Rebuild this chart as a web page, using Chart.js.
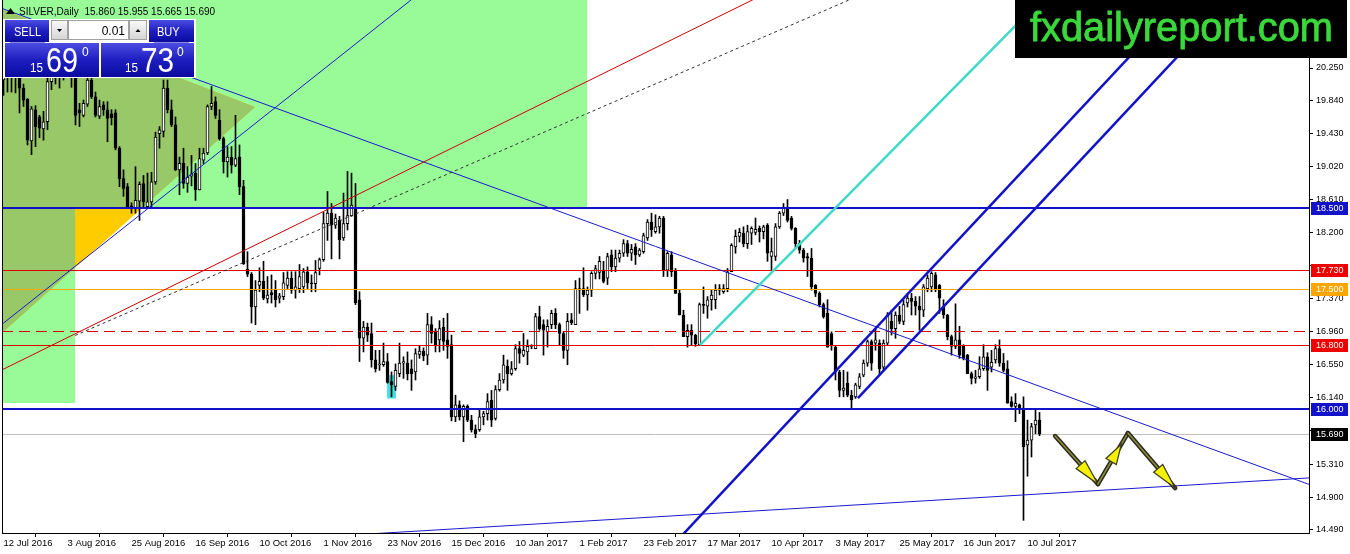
<!DOCTYPE html>
<html>
<head>
<meta charset="utf-8">
<script src="https://cdn.jsdelivr.net/npm/chart.js@4.4.1/dist/chart.umd.min.js"></script>
<style>
html, body { margin: 0; padding: 0; background: #fff; overflow: hidden; }
canvas { display: block; }
</style>
</head>
<body>
<canvas id="myChart" width="1350" height="554"></canvas>
<script>
// SILVER daily candles, 12 Jul 2016 .. 13 Jul 2017 (bar index 0..259)
var opens = [
  20.10,20.15,20.20,20.25,20.20,20.00,19.86,19.34,19.73,19.64,
  19.49,19.58,20.08,20.25,20.15,20.28,20.35,20.30,20.20,19.73,
  19.66,19.80,20.10,19.89,19.65,19.79,19.73,19.68,19.69,19.25,
  18.87,18.77,18.53,18.50,18.59,18.81,18.52,18.58,18.83,19.43,
  19.46,20.00,19.73,19.54,18.98,19.06,18.81,18.90,18.94,18.73,
  19.10,19.19,19.77,19.83,19.60,19.37,19.08,19.14,19.04,19.14,
  18.77,17.74,17.68,17.27,17.54,17.59,17.37,17.45,17.48,17.38,
  17.40,17.54,17.63,17.48,17.50,17.52,17.71,17.57,17.56,17.75,
  17.86,18.31,18.44,18.29,18.35,18.13,18.31,18.41,18.50,17.36,
  16.88,17.02,16.94,16.61,16.55,16.55,16.59,16.34,16.28,16.44,
  16.57,16.57,16.50,16.46,16.68,16.72,16.67,17.05,16.96,16.86,
  17.02,16.86,16.80,15.90,16.05,15.90,16.03,15.86,15.74,15.74,
  15.90,15.94,16.11,15.88,16.24,16.36,16.53,16.44,16.50,16.75,
  16.67,16.71,16.78,16.75,17.15,17.05,16.96,17.05,17.19,17.05,
  16.94,16.73,17.11,17.05,17.48,17.50,17.42,17.48,17.69,17.70,
  17.73,17.63,17.92,17.77,17.88,17.94,18.06,17.94,18.02,17.92,
  17.96,18.13,18.33,18.21,18.27,18.38,17.73,17.92,17.73,17.44,
  17.17,16.90,16.98,16.92,16.80,17.30,17.28,17.36,17.36,17.48,
  17.46,17.50,17.71,18.02,18.15,18.19,18.06,18.19,18.20,18.25,
  18.21,18.29,17.90,17.90,18.27,18.44,18.50,18.38,18.25,18.06,
  17.98,17.90,17.88,17.54,17.44,17.30,17.19,16.94,16.77,16.46,
  16.23,16.32,16.17,16.15,16.28,16.42,16.57,16.84,16.82,16.82,
  16.52,16.82,17.09,17.00,17.17,17.09,17.32,17.38,17.34,17.28,
  17.23,17.50,17.52,17.67,17.54,17.27,17.17,16.90,16.78,16.86,
  16.78,16.67,16.44,16.38,16.40,16.50,16.65,16.52,16.61,16.75,
  16.57,16.50,16.09,16.03,16.05,16.01,15.55,15.61,15.80,15.86
];
var highs = [
  20.35,20.30,20.40,20.45,20.30,20.05,19.87,19.77,19.78,19.66,
  19.71,20.20,20.35,20.40,20.35,20.45,20.50,20.45,20.25,19.81,
  19.85,20.12,20.14,19.95,19.85,19.83,19.83,19.73,19.73,19.27,
  18.98,18.81,18.57,19.02,18.83,18.91,18.94,18.95,19.45,19.52,
  20.10,20.10,19.85,19.64,19.14,19.25,19.02,19.16,19.06,19.25,
  19.25,19.79,20.02,19.89,19.73,19.39,19.27,19.27,19.66,19.29,
  18.85,17.96,17.70,17.60,17.76,17.84,17.65,17.67,17.60,17.44,
  17.70,17.71,17.71,17.71,17.80,17.75,17.77,17.67,17.85,17.88,
  18.45,18.71,18.56,18.43,18.40,18.69,18.96,18.94,18.81,17.46,
  17.09,17.07,17.07,16.73,16.73,16.82,16.69,16.46,16.56,16.82,
  16.65,16.71,16.61,16.75,16.78,16.76,17.19,17.15,17.00,17.10,
  17.13,17.19,16.92,16.17,16.10,16.05,16.05,15.92,15.80,15.99,
  15.97,16.19,16.23,16.29,16.44,16.67,16.61,16.59,16.80,16.84,
  16.94,16.86,16.80,17.19,17.28,17.11,17.11,17.23,17.25,17.07,
  16.96,17.19,17.19,17.60,17.63,17.76,17.52,17.71,17.79,17.90,
  17.84,17.94,17.98,17.98,17.98,18.11,18.10,18.05,18.06,18.00,
  18.19,18.36,18.44,18.42,18.40,18.40,17.96,17.96,17.75,17.48,
  17.23,17.05,17.05,16.93,17.32,17.52,17.40,17.48,17.55,17.55,
  17.55,17.75,18.06,18.23,18.25,18.27,18.29,18.27,18.38,18.28,
  18.29,18.31,18.13,18.31,18.46,18.56,18.61,18.40,18.26,18.10,
  18.00,17.94,18.00,17.55,17.46,17.32,17.36,16.96,16.78,16.48,
  16.48,16.46,16.23,16.32,16.44,16.61,16.86,16.86,17.00,16.86,
  16.86,17.20,17.23,17.21,17.28,17.36,17.44,17.44,17.40,17.40,
  17.55,17.67,17.71,17.70,17.55,17.36,17.18,16.92,17.31,17.03,
  16.80,16.68,16.46,16.48,16.65,16.80,16.70,16.73,16.80,16.86,
  16.69,16.60,16.15,16.19,16.06,16.15,15.86,15.82,15.99,15.955
];
var lows = [
  19.91,19.95,19.95,19.94,19.69,19.77,19.29,19.17,19.27,19.38,
  19.35,19.48,19.98,20.05,20.00,20.10,20.15,20.01,19.54,19.52,
  19.64,19.77,19.87,19.64,19.62,19.66,19.33,19.54,19.23,18.77,
  18.65,18.50,18.44,18.44,18.35,18.52,18.50,18.52,18.80,19.25,
  19.39,19.69,19.52,18.97,18.67,18.75,18.70,18.78,18.60,18.73,
  19.06,19.17,19.73,19.62,19.35,18.94,18.89,18.94,19.02,18.67,
  17.80,17.65,17.07,17.05,17.46,17.36,17.32,17.32,17.27,17.32,
  17.36,17.50,17.44,17.38,17.45,17.45,17.50,17.46,17.46,17.67,
  17.84,18.10,17.87,18.25,17.87,18.10,18.23,18.40,17.30,16.59,
  16.71,16.84,16.52,16.46,16.48,16.53,16.32,16.15,16.23,16.40,
  16.38,16.36,16.23,16.36,16.63,16.60,16.55,16.82,16.71,16.71,
  16.73,16.63,15.85,15.84,15.86,15.59,15.84,15.71,15.64,15.72,
  15.80,15.86,15.78,15.86,16.22,16.32,16.23,16.42,16.48,16.57,
  16.65,16.55,16.75,16.75,16.98,16.67,16.77,17.00,17.00,16.80,
  16.63,16.55,17.05,17.05,17.19,17.40,17.23,17.40,17.62,17.62,
  17.57,17.55,17.71,17.71,17.83,17.90,17.90,17.85,17.80,17.90,
  17.94,18.10,18.15,18.19,18.19,17.65,17.65,17.65,17.44,17.17,
  16.90,16.77,16.79,16.78,16.80,17.19,17.13,17.23,17.25,17.42,
  17.44,17.46,17.71,17.94,18.08,18.02,18.00,18.05,18.17,18.08,
  18.12,17.84,17.73,17.85,18.25,18.41,18.33,18.23,18.00,17.94,
  17.83,17.65,17.48,17.40,17.27,17.13,16.77,16.73,16.36,16.15,
  16.15,16.15,16.01,16.13,16.25,16.40,16.53,16.48,16.73,16.42,
  16.48,16.80,16.92,16.88,17.06,17.05,17.27,17.17,17.17,16.98,
  17.15,17.46,17.46,17.46,17.19,17.13,16.86,16.67,16.75,16.63,
  16.61,16.44,16.31,16.32,16.38,16.48,16.23,16.46,16.57,16.53,
  16.46,16.07,16.02,15.84,15.94,14.61,15.16,15.40,15.69,15.665
];
var closes = [
  20.15,20.20,20.25,20.15,20.00,19.85,19.35,19.74,19.52,19.50,
  19.58,20.08,20.25,20.15,20.28,20.35,20.30,20.20,19.66,19.69,
  19.81,20.10,19.89,19.66,19.77,19.73,19.62,19.63,19.25,18.87,
  18.75,18.51,18.50,18.60,18.80,18.58,18.58,18.83,19.39,19.48,
  20.00,19.73,19.54,18.98,19.06,18.81,18.89,18.93,18.73,19.12,
  19.19,19.77,19.81,19.66,19.37,19.08,19.14,19.04,19.12,18.77,
  17.81,17.68,17.27,17.48,17.59,17.38,17.42,17.42,17.36,17.41,
  17.57,17.63,17.48,17.52,17.65,17.71,17.57,17.56,17.70,17.86,
  18.31,18.44,18.29,18.38,18.11,18.31,18.41,18.54,17.32,16.88,
  17.02,16.92,16.61,16.50,16.56,16.59,16.33,16.30,16.48,16.57,
  16.59,16.44,16.44,16.69,16.72,16.66,17.05,16.94,16.80,17.00,
  16.84,16.78,15.90,16.05,15.90,16.03,15.86,15.74,15.69,15.90,
  15.94,16.09,15.86,16.24,16.36,16.55,16.44,16.50,16.75,16.69,
  16.73,16.78,16.79,17.15,17.00,16.98,17.03,17.19,17.05,16.94,
  16.73,17.09,17.07,17.50,17.50,17.42,17.48,17.69,17.75,17.84,
  17.59,17.90,17.77,17.88,17.94,18.06,17.94,17.99,17.92,17.98,
  18.16,18.33,18.23,18.27,18.38,17.73,17.94,17.71,17.44,17.17,
  16.90,16.98,16.92,16.81,17.30,17.29,17.36,17.42,17.48,17.50,
  17.50,17.71,18.04,18.15,18.20,18.06,18.21,18.25,18.24,18.21,
  18.27,17.94,17.96,18.27,18.44,18.50,18.35,18.25,18.06,17.98,
  17.88,17.88,17.52,17.44,17.30,17.15,16.77,16.80,16.46,16.23,
  16.26,16.17,16.11,16.30,16.40,16.57,16.84,16.57,16.86,16.50,
  16.82,17.17,17.00,17.17,17.09,17.30,17.38,17.34,17.28,17.23,
  17.52,17.63,17.69,17.50,17.38,17.17,16.90,16.78,16.86,16.67,
  16.63,16.44,16.38,16.40,16.50,16.65,16.48,16.58,16.75,16.57,
  16.48,16.07,16.03,16.07,16.01,15.53,15.61,15.78,15.86,15.69
];

// time axis labels (every 16 bars) and price axis ticks
var xTickBars = [0, 16, 32, 48, 64, 80, 96, 112, 128, 144, 160, 176, 192, 208, 224, 240, 256];
var xTickLabels = ['12 Jul 2016', '3 Aug 2016', '25 Aug 2016', '16 Sep 2016', '10 Oct 2016', '1 Nov 2016',
  '23 Nov 2016', '15 Dec 2016', '10 Jan 2017', '1 Feb 2017', '23 Feb 2017', '17 Mar 2017', '10 Apr 2017',
  '3 May 2017', '25 May 2017', '16 Jun 2017', '10 Jul 2017'];
var yTicks = [20.25, 19.84, 19.43, 19.02, 18.61, 18.20, 17.79, 17.37, 16.96, 16.55, 16.14, 15.73, 15.31, 14.90, 14.49];

// horizontal levels and the tags on the price axis
var levelPrices = [18.50, 17.73, 17.50, 16.975, 16.80, 16.00];
var tagPrices = [18.50, 17.73, 17.50, 16.80, 16.00, 15.69];
var bidPrice = 15.69;

// drawn objects, as (bar, price) anchor pairs
var zoneTopBars = [-2, 145.9];      var zoneTopPrices = [18.517, 21.2];
var zoneLeftBars = [-2, 17.9];      var zoneLeftPrices = [16.073, 18.517];
var triangleBars = [-3.4, 62.9, -3.4];
var trianglePrices = [21.04, 19.764, 16.81];
var boxBars = [95.9, 98.1];         var boxPrices = [16.13, 16.42];
var downLineBars = [47.4, 326.1];   var downLinePrices = [20.125, 15.063];
var upLineBars = [36.6, 74.1];      var upLinePrices = [18.517, 20.0];
var redLineBars = [36.6, 74.1];     var redLinePrices = [17.395, 18.317];
var dotLineBars = [17.9, 74.1];     var dotLinePrices = [16.915, 18.13];
var floorLineBars = [95.4, 326.1];  var floorLinePrices = [14.452, 15.138];
var cyanLineBars = [174.1, 212.4];  var cyanLinePrices = [16.796, 18.729];
var chanALineBars = [196.6, 221.6]; var chanALinePrices = [15.861, 17.195];
var chanBLineBars = [213.6, 245.9]; var chanBLinePrices = [16.135, 17.856];
var pathBars = [262.9, 273.6, 281.1, 292.9];
var pathPrices = [15.661, 15.063, 15.698, 15.012];

var BLUE = '#1212c8';

function pt(chart, bar, price) {
  return [chart.scales.x.getPixelForValue(bar), chart.scales.y.getPixelForValue(price)];
}

function drawLine(ctx, chart, bars, prices, fromFirst) {
  var a = pt(chart, bars[0], prices[0]), b = pt(chart, bars[1], prices[1]);
  var ca = chart.chartArea;
  var k = (b[1] - a[1]) / (b[0] - a[0]);
  var x0 = fromFirst ? a[0] : ca.left, x1 = ca.right;
  ctx.beginPath();
  ctx.moveTo(x0, a[1] + k * (x0 - a[0]));
  ctx.lineTo(x1, a[1] + k * (x1 - a[0]));
  ctx.stroke();
}

function rectOf(chart, bars, prices) {
  var a = pt(chart, bars[0], prices[0]), b = pt(chart, bars[1], prices[1]);
  return [Math.min(a[0], b[0]), Math.min(a[1], b[1]), Math.abs(b[0] - a[0]), Math.abs(b[1] - a[1])];
}

function arrow(ctx, a, b, tipFrac, headLen) {
  var dx = b[0] - a[0], dy = b[1] - a[1];
  var len = Math.sqrt(dx * dx + dy * dy), ux = dx / len, uy = dy / len;
  var tip = [a[0] + dx * tipFrac, a[1] + dy * tipFrac];
  var base = [tip[0] - ux * headLen, tip[1] - uy * headLen];
  ctx.lineCap = 'round';
  ctx.strokeStyle = '#2b2b20'; ctx.lineWidth = 4.5;
  ctx.beginPath(); ctx.moveTo(a[0], a[1]); ctx.lineTo(b[0], b[1]); ctx.stroke();
  ctx.strokeStyle = '#8c8c3c'; ctx.lineWidth = 1.5;
  ctx.beginPath(); ctx.moveTo(a[0], a[1]); ctx.lineTo(b[0], b[1]); ctx.stroke();
  ctx.beginPath();
  ctx.moveTo(tip[0], tip[1]);
  ctx.lineTo(base[0] - uy * 6, base[1] + ux * 6);
  ctx.lineTo(base[0] + uy * 6, base[1] - ux * 6);
  ctx.closePath();
  ctx.fillStyle = '#f4f000'; ctx.fill();
  ctx.strokeStyle = '#3a3a20'; ctx.lineWidth = 1.2; ctx.stroke();
}

var backPlugin = {
  id: 'back',
  beforeDatasetsDraw: function (chart) {
    var ctx = chart.ctx, ca = chart.chartArea;
    ctx.save();
    ctx.beginPath(); ctx.rect(ca.left, ca.top, ca.right - ca.left, ca.bottom - ca.top); ctx.clip();
    var r1 = rectOf(chart, zoneTopBars, zoneTopPrices);
    var r2 = rectOf(chart, zoneLeftBars, zoneLeftPrices);
    ctx.fillStyle = '#98fb98';
    ctx.fillRect(r1[0], r1[1], r1[2], r1[3]);
    ctx.fillRect(r2[0], r2[1], r2[2], r2[3]);
    ctx.beginPath();
    for (var i = 0; i < 3; i++) {
      var p = pt(chart, triangleBars[i], trianglePrices[i]);
      if (i === 0) ctx.moveTo(p[0], p[1]); else ctx.lineTo(p[0], p[1]);
    }
    ctx.closePath();
    ctx.fillStyle = '#ffcc00';
    ctx.fill();
    ctx.clip();
    ctx.fillStyle = '#98c867';
    ctx.fillRect(r1[0], r1[1], r1[2], r1[3]);
    ctx.fillRect(r2[0], r2[1], r2[2], r2[3]);
    ctx.restore();

    ctx.save();
    var rb = rectOf(chart, boxBars, boxPrices);
    ctx.fillStyle = '#3ee0e0';
    ctx.fillRect(rb[0], rb[1], rb[2], rb[3]);
    var yb = Math.round(chart.scales.y.getPixelForValue(bidPrice)) + 0.5;
    ctx.strokeStyle = '#c0c0c0'; ctx.lineWidth = 1;
    ctx.beginPath(); ctx.moveTo(ca.left, yb); ctx.lineTo(ca.right, yb); ctx.stroke();
    ctx.restore();
  },
  afterDatasetsDraw: function (chart) {
    var ctx = chart.ctx, ca = chart.chartArea, ys = chart.scales.y;
    ctx.save();
    ctx.beginPath(); ctx.rect(ca.left, ca.top, ca.right - ca.left, ca.bottom - ca.top); ctx.clip();
    var lvlColor = [BLUE, '#e00000', '#ffa500', '#d80000', '#e00000', BLUE];
    var lvlWidth = [2, 1, 1, 1, 1, 2];
    for (var i = 0; i < levelPrices.length; i++) {
      var y = ys.getPixelForValue(levelPrices[i]);
      y = lvlWidth[i] === 1 ? Math.round(y) + 0.5 : Math.round(y);
      ctx.strokeStyle = lvlColor[i]; ctx.lineWidth = lvlWidth[i];
      ctx.setLineDash(i === 3 ? [11, 6] : []);
      ctx.beginPath(); ctx.moveTo(ca.left, y); ctx.lineTo(ca.right, y); ctx.stroke();
    }
    ctx.setLineDash([]);
    ctx.lineWidth = 1;
    ctx.strokeStyle = '#1a1ad0';
    drawLine(ctx, chart, downLineBars, downLinePrices, false);
    drawLine(ctx, chart, upLineBars, upLinePrices, false);
    drawLine(ctx, chart, floorLineBars, floorLinePrices, false);
    ctx.strokeStyle = '#d00000';
    drawLine(ctx, chart, redLineBars, redLinePrices, false);
    ctx.strokeStyle = '#303030'; ctx.setLineDash([3, 3]);
    drawLine(ctx, chart, dotLineBars, dotLinePrices, true);
    ctx.setLineDash([]);
    ctx.strokeStyle = '#40d8c8'; ctx.lineWidth = 2.5;
    drawLine(ctx, chart, cyanLineBars, cyanLinePrices, true);
    ctx.strokeStyle = BLUE; ctx.lineWidth = 2.5;
    drawLine(ctx, chart, chanALineBars, chanALinePrices, false);
    drawLine(ctx, chart, chanBLineBars, chanBLinePrices, true);
    var P = [];
    for (var j = 0; j < pathBars.length; j++) P.push(pt(chart, pathBars[j], pathPrices[j]));
    arrow(ctx, P[0], P[1], 1, 26);
    arrow(ctx, P[1], P[2], 0.78, 20);
    arrow(ctx, P[2], P[3], 1, 26);
    ctx.restore();
  },
  afterDraw: function (chart) {
    var ctx = chart.ctx, ca = chart.chartArea, ys = chart.scales.y;
    ctx.save();
    // left frame
    ctx.strokeStyle = '#000'; ctx.lineWidth = 1;
    ctx.beginPath(); ctx.moveTo(ca.left + 0.5, 0); ctx.lineTo(ca.left + 0.5, ca.bottom); ctx.stroke();
    // price tags
    var tagColor = [BLUE, '#ee0000', '#ffa500', '#ee0000', BLUE, '#000'];
    ctx.font = '9px "Liberation Sans"';
    ctx.textBaseline = 'middle'; ctx.textAlign = 'left';
    for (var i = 0; i < tagPrices.length; i++) {
      var y = Math.round(ys.getPixelForValue(tagPrices[i]));
      ctx.fillStyle = tagColor[i];
      ctx.fillRect(ca.right + 2, y - 6, 37, 13);
      ctx.fillStyle = '#fff';
      ctx.fillText(tagPrices[i].toFixed(3), ca.right + 7, y + 0.5);
    }
    // logo
    ctx.fillStyle = '#000';
    ctx.fillRect(1015, 0, 332, 58);
    ctx.font = '40px "Liberation Sans"';
    ctx.textBaseline = 'alphabetic';
    var txt = 'fxdailyreport.com';
    var w = ctx.measureText(txt).width;
    ctx.save();
    ctx.translate(1030, 41);
    ctx.scale(303 / w, 1);
    ctx.fillStyle = '#3ad83a';
    ctx.strokeStyle = '#3ad83a';
    ctx.lineWidth = 0.8;
    ctx.fillText(txt, 0, 0);
    ctx.strokeText(txt, 0, 0);
    ctx.restore();
    // header
    ctx.fillStyle = '#000';
    ctx.beginPath(); ctx.moveTo(6, 14); ctx.lineTo(10.5, 8); ctx.lineTo(15, 14); ctx.closePath(); ctx.fill();
    ctx.font = '10px "Liberation Sans"';
    ctx.fillText('SILVER,Daily  15.860 15.955 15.665 15.690', 19, 15);
    drawPanel(ctx);
    ctx.restore();
  }
};

function blueBox(ctx, x, y, w, h) {
  var g = ctx.createLinearGradient(0, y, 0, y + h);
  g.addColorStop(0, '#4c4ce2');
  g.addColorStop(0.5, '#1e1ec0');
  g.addColorStop(1, '#0a0a9e');
  ctx.fillStyle = g;
  ctx.fillRect(x, y, w, h);
}

function spinBox(ctx, x, w, up) {
  var g = ctx.createLinearGradient(0, 20, 0, 40);
  g.addColorStop(0, '#fafafa'); g.addColorStop(1, '#d4d4d4');
  ctx.fillStyle = g; ctx.fillRect(x, 20, w, 20);
  ctx.strokeStyle = '#a0a0a0'; ctx.lineWidth = 1; ctx.strokeRect(x + 0.5, 20.5, w - 1, 19);
  var cx = x + w / 2;
  ctx.fillStyle = '#000';
  ctx.beginPath();
  if (up) { ctx.moveTo(cx - 2.5, 32); ctx.lineTo(cx + 2.5, 32); ctx.lineTo(cx, 29); }
  else { ctx.moveTo(cx - 2.5, 29); ctx.lineTo(cx + 2.5, 29); ctx.lineTo(cx, 32); }
  ctx.closePath(); ctx.fill();
}

function squeezeText(ctx, t, x, y, sx) {
  ctx.save(); ctx.translate(x, y); ctx.scale(sx, 1); ctx.fillText(t, 0, 0); ctx.restore();
}

function drawPanel(ctx) {
  ctx.fillStyle = '#fff';
  ctx.fillRect(3, 19, 193, 59);
  blueBox(ctx, 5, 20, 44, 22);
  blueBox(ctx, 149, 20, 45, 22);
  blueBox(ctx, 5, 43, 94, 34);
  blueBox(ctx, 101, 43, 93, 34);
  ctx.strokeStyle = '#8a8ad8'; ctx.lineWidth = 1;
  ctx.beginPath(); ctx.moveTo(10, 42.5); ctx.lineTo(45, 42.5); ctx.moveTo(154, 42.5); ctx.lineTo(189, 42.5); ctx.stroke();
  spinBox(ctx, 51, 17, false);
  spinBox(ctx, 129, 18, true);
  ctx.fillStyle = '#fff'; ctx.fillRect(68, 20, 61, 20);
  ctx.strokeStyle = '#a0a0a0'; ctx.strokeRect(68.5, 20.5, 60, 19);
  ctx.textBaseline = 'alphabetic';
  ctx.fillStyle = '#000'; ctx.font = '12px "Liberation Sans"'; ctx.textAlign = 'right';
  ctx.fillText('0.01', 125, 35);
  ctx.textAlign = 'left';
  ctx.fillStyle = '#fff';
  ctx.font = '13px "Liberation Sans"';
  squeezeText(ctx, 'SELL', 14, 36, 0.85);
  squeezeText(ctx, 'BUY', 157, 36, 0.85);
  ctx.font = '13px "Liberation Sans"';
  squeezeText(ctx, '15', 30, 72, 0.9);
  squeezeText(ctx, '15', 125, 72, 0.9);
  ctx.font = '35px "Liberation Sans"';
  squeezeText(ctx, '69', 46, 72, 0.82);
  squeezeText(ctx, '73', 141, 72, 0.85);
  ctx.font = '12px "Liberation Sans"';
  ctx.fillText('0', 82, 56);
  ctx.fillText('0', 177, 56);
}

var bodyData = [], wickData = [];
for (var i = 0; i < opens.length; i++) {
  bodyData.push({ x: i, y: [opens[i], closes[i]] });
  wickData.push({ x: i, y: [lows[i], highs[i]] });
}

var myChart = document.getElementById('myChart').getContext('2d');
var chart = new Chart(myChart, {
  type: 'bar',
  data: {
    datasets: [
      {
        label: 'body',
        data: bodyData,
        grouped: false,
        barThickness: 3,
        minBarLength: 1,
        borderWidth: 1,
        borderSkipped: false,
        borderColor: '#000',
        backgroundColor: function (c) {
          var k = c.dataIndex;
          return closes[k] >= opens[k] ? '#fff' : '#000';
        }
      },
      {
        label: 'wick',
        data: wickData,
        grouped: false,
        barThickness: 1,
        borderWidth: 0,
        backgroundColor: '#000'
      }
    ]
  },
  options: {
    responsive: false,
    animation: false,
    devicePixelRatio: 1,
    layout: { padding: { left: 2, top: 0, right: 0, bottom: 0 } },
    plugins: { legend: { display: false }, tooltip: { enabled: false } },
    scales: {
      x: {
        type: 'linear',
        min: -0.375,
        max: 326.375,
        offset: false,
        grid: { drawOnChartArea: false, tickLength: 4, color: '#000' },
        border: { display: true, color: '#000' },
        ticks: {
          align: 'start',
          autoSkip: false,
          maxRotation: 0,
          padding: 1,
          color: '#000',
          font: { family: 'Liberation Sans', size: 9.5 },
          callback: function (v, idx) { return xTickLabels[idx]; }
        },
        afterBuildTicks: function (s) { s.ticks = xTickBars.map(function (v) { return { value: v }; }); },
        afterFit: function (s) { s.height = 21; s.paddingLeft = 0; s.paddingRight = 0; }
      },
      y: {
        position: 'right',
        min: 14.452,
        max: 21.098,
        grid: { drawOnChartArea: false, tickLength: 4, color: '#000' },
        border: { display: true, color: '#000' },
        ticks: {
          padding: 3,
          color: '#000',
          font: { family: 'Liberation Sans', size: 9 },
          callback: function (v) {
            for (var t = 0; t < tagPrices.length; t++) {
              if (Math.abs(tagPrices[t] - v) < 0.08) return '';
            }
            return Number(v).toFixed(3);
          }
        },
        afterBuildTicks: function (s) { s.ticks = yTicks.map(function (v) { return { value: v }; }); },
        afterFit: function (s) { s.width = 41; s.paddingTop = 0; s.paddingBottom = 0; }
      }
    }
  },
  plugins: [backPlugin]
});
</script>
</body>
</html>
